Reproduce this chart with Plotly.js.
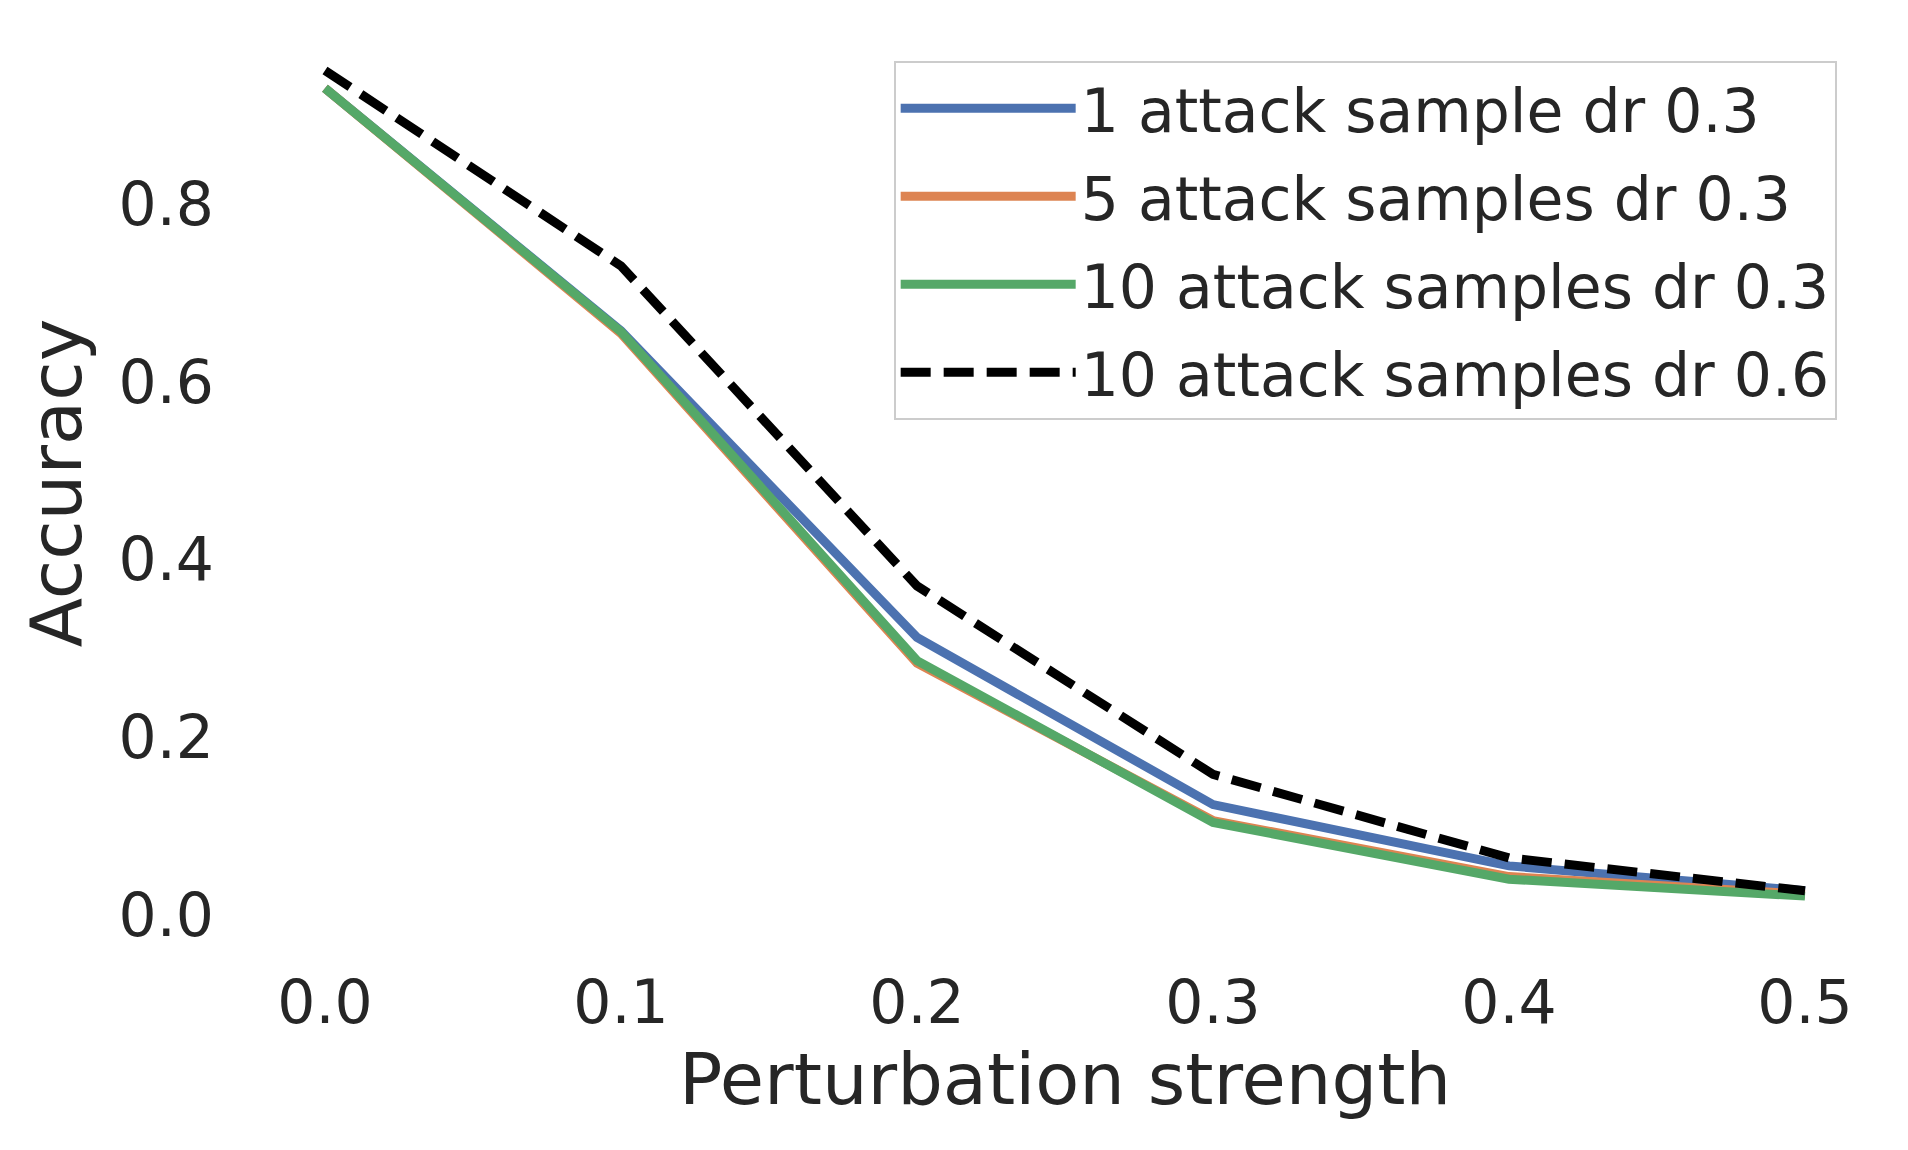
<!DOCTYPE html>
<html>
<head>
<meta charset="utf-8">
<script src="https://cdn.plot.ly/plotly-3.0.1.min.js"></script>
<style>
  html, body { margin: 0; padding: 0; background: #ffffff; }
  #chart { width: 1908px; height: 1150px; }
</style>
</head>
<body>
<div id="chart"></div>
<script>
// Perturbation strengths (x)
const perturbation = [0.0, 0.1, 0.2, 0.3, 0.4, 0.5];

// Series names
const seriesNames = [
  "1 attack sample dr 0.3",
  "5 attack samples dr 0.3",
  "10 attack samples dr 0.3",
  "10 attack samples dr 0.6"
];

// Accuracy values
const acc1dr03  = [0.930, 0.657, 0.312, 0.124, 0.055, 0.027];
const acc5dr03  = [0.930, 0.654, 0.283, 0.106, 0.043, 0.023];
const acc10dr03 = [0.930, 0.656, 0.286, 0.104, 0.040, 0.021];
const acc10dr06 = [0.950, 0.730, 0.370, 0.158, 0.064, 0.027];

// Tick values / labels
const xTicks = [0.0, 0.1, 0.2, 0.3, 0.4, 0.5];
const xTickLabels = ["0.0", "0.1", "0.2", "0.3", "0.4", "0.5"];
const yTicks = [0.0, 0.2, 0.4, 0.6, 0.8];
const yTickLabels = ["0.0", "0.2", "0.4", "0.6", "0.8"];

const textColor = "#262626";
const fontFam = "DejaVu Sans, Verdana, sans-serif";

function mk(y, name, color, dash, group) {
  return {
    x: perturbation, y: y, name: name, type: "scatter", mode: "lines",
    legendgroup: group,
    line: { color: color, width: 9, dash: dash || "solid" }
  };
}

const traces = [
  mk(acc1dr03,  seriesNames[0], "#4c72b0", null, "g1"),
  mk(acc5dr03,  seriesNames[1], "#dd8452", null, "g2"),
  mk(acc10dr03, seriesNames[2], "#55a868", null, "g3"),
  mk(acc10dr06, seriesNames[3], "#000000", "30px,13px", "g4")
];

const layout = {
  width: 1908, height: 1150,
  paper_bgcolor: "#ffffff", plot_bgcolor: "#ffffff",
  margin: { l: 251, r: 29, t: 29, b: 213, autoexpand: false },
  font: { family: fontFam, color: textColor, size: 60 },
  showlegend: true,
  legend: {
    x: 0.974, xanchor: "right", xref: "paper",
    y: 0.965, yanchor: "top", yref: "paper",
    bgcolor: "rgba(255,255,255,0.8)",
    bordercolor: "#cccccc", borderwidth: 2,
    font: { family: fontFam, size: 60, color: textColor },
    itemwidth: 175,
    traceorder: "grouped",
    tracegroupgap: 7
  },
  xaxis: {
    range: [-0.025, 0.525],
    tickvals: xTicks, ticktext: xTickLabels,
    showgrid: false, zeroline: false, showline: false,
    ticks: "", ticklabelstandoff: 25,
    tickfont: { family: fontFam, size: 60, color: textColor },
    title: { text: "Perturbation strength", font: { family: fontFam, size: 72, color: textColor }, standoff: 16 },
    automargin: false
  },
  yaxis: {
    range: [-0.025, 0.9966],
    tickvals: yTicks, ticktext: yTickLabels,
    showgrid: false, zeroline: false, showline: false,
    ticks: "", ticklabelstandoff: 36,
    tickfont: { family: fontFam, size: 60, color: textColor },
    title: { text: "Accuracy", font: { family: fontFam, size: 72, color: textColor }, standoff: 13 },
    automargin: false
  }
};

Plotly.newPlot("chart", traces, layout, { displayModeBar: false, staticPlot: true });
</script>
</body>
</html>
